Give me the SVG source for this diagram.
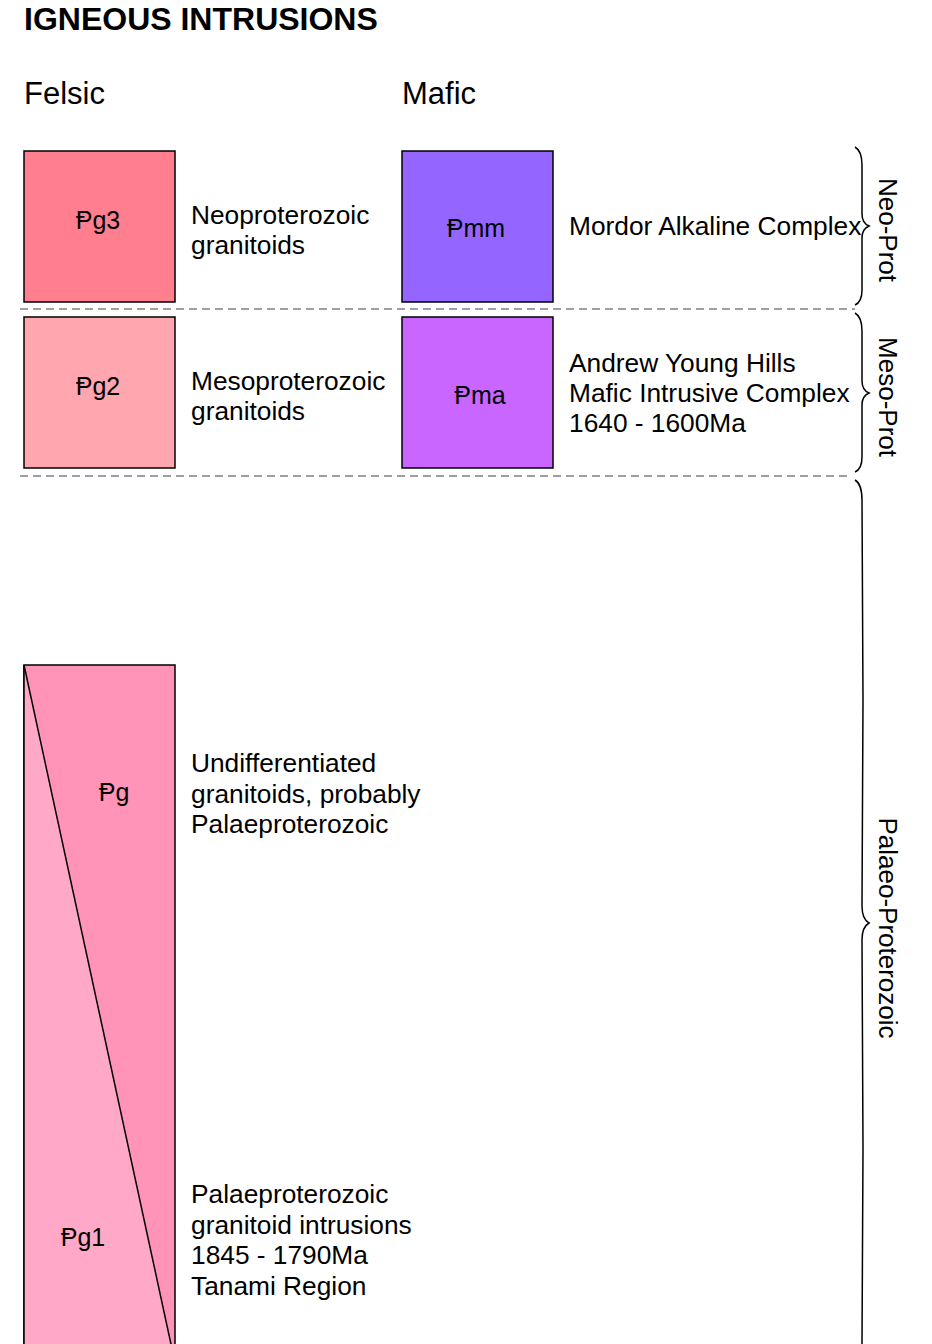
<svg xmlns="http://www.w3.org/2000/svg" width="932" height="1344" viewBox="0 0 932 1344">
<style>
text{font-family:"Liberation Sans",Arial,"DejaVu Sans",sans-serif;fill:#000}
.title{font-size:32px;font-weight:bold}
.head{font-size:31px}
.desc{font-size:26.3px}
.code{font-size:25px;text-anchor:middle}
.era{font-size:26px;text-anchor:middle}
.box{stroke:#000;stroke-width:1.5}
.dash{stroke:#808080;stroke-width:1.6;stroke-dasharray:8 5;fill:none}
.brace{stroke:#000;stroke-width:1.5;fill:none}
</style>
<rect width="932" height="1344" fill="#fff"/>
<text class="title" x="24" y="30">IGNEOUS INTRUSIONS</text>
<text class="head" x="24" y="104">Felsic</text>
<text class="head" x="402" y="104">Mafic</text>

<g id="connectors">
<line class="dash" x1="20" y1="309" x2="855" y2="309"/>
<line class="dash" x1="20" y1="476" x2="852" y2="476"/>
</g>

<g id="braces">
<path class="brace" d="M855,147 Q862,151 862,165 L862,214 Q862,223 869,226 Q862,229 862,238 L862,290 Q862,302 855,305"/>
<path class="brace" d="M855,313 Q862,317 862,331 L862,381 Q862,390 869,393 Q862,396 862,405 L862,457 Q862,469 855,472"/>
<path class="brace" d="M855,480 Q862,484 862,500 L863,700 L862,906 Q862,919 869,923 Q862,927 862,940 L863,1150 L862,1344"/>
</g>

<g id="era-labels">
<text class="era" transform="translate(879,230) rotate(90)">Neo-Prot</text>
<text class="era" transform="translate(879,397) rotate(90)">Meso-Prot</text>
<text class="era" transform="translate(879,928) rotate(90)">Palaeo-Proterozoic</text>
</g>

<g id="Pg3">
<rect class="box" x="24" y="151" width="151" height="151" fill="#FF7F8F"/>
<text class="code" x="98" y="229">Ᵽg3</text>
<text class="desc" x="191" y="224">Neoproterozoic</text>
<text class="desc" x="191" y="254">granitoids</text>
</g>

<g id="Pg2">
<rect class="box" x="24" y="317" width="151" height="151" fill="#FFA6AE"/>
<text class="code" x="98" y="395">Ᵽg2</text>
<text class="desc" x="191" y="390">Mesoproterozoic</text>
<text class="desc" x="191" y="420">granitoids</text>
</g>

<g id="Pmm">
<rect class="box" x="402" y="151" width="151" height="151" fill="#9566FF"/>
<text class="code" x="476" y="237">Ᵽmm</text>
<text class="desc" x="569" y="235">Mordor Alkaline Complex</text>
</g>

<g id="Pma">
<rect class="box" x="402" y="317" width="151" height="151" fill="#C966FF"/>
<text class="code" x="480" y="404">Ᵽma</text>
<text class="desc" x="569" y="372">Andrew Young Hills</text>
<text class="desc" x="569" y="402">Mafic Intrusive Complex</text>
<text class="desc" x="569" y="432">1640 - 1600Ma</text>
</g>

<g id="Pg">
<rect class="box" x="24" y="665" width="151" height="700" fill="#FF94B8"/>
<polygon points="24,665 175.5,1365 24,1365" fill="#FFA8C8"/>
<line x1="24" y1="665" x2="24" y2="1365" stroke="#000" stroke-width="1.5"/>
<line x1="24" y1="665" x2="175.5" y2="1365" stroke="#000" stroke-width="1.5"/>
<text class="code" x="114" y="801">Ᵽg</text>
<text class="desc" x="191" y="772">Undifferentiated</text>
<text class="desc" x="191" y="803">granitoids, probably</text>
<text class="desc" x="191" y="833">Palaeproterozoic</text>
</g>

<g id="Pg1">
<text class="code" x="83" y="1246">Ᵽg1</text>
<text class="desc" x="191" y="1203">Palaeproterozoic</text>
<text class="desc" x="191" y="1234">granitoid intrusions</text>
<text class="desc" x="191" y="1264">1845 - 1790Ma</text>
<text class="desc" x="191" y="1295">Tanami Region</text>
</g>
</svg>
